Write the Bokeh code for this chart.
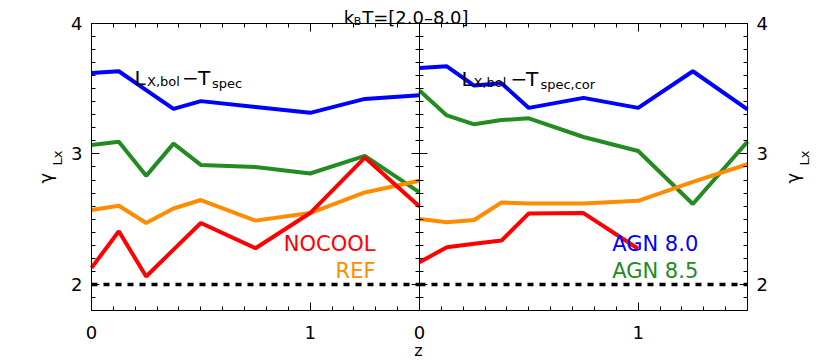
from bokeh.plotting import figure
from bokeh.models import (Range1d, LinearAxis, FixedTicker, Label)
from bokeh.embed import file_html
from bokeh.resources import INLINE
import math

# ---------------- data ----------------
z = [0.0, 0.125, 0.25, 0.375, 0.5, 0.75, 1.0, 1.25, 1.5]
z_nocool_cor = [0.0, 0.125, 0.25, 0.375, 0.5, 0.75, 1.0]

# left panel: L_X,bol - T_spec
agn80_spec = [3.62, 3.634, 3.49, 3.346, 3.405, 3.36, 3.315, 3.422, 3.45]
agn85_spec = [3.069, 3.094, 2.832, 3.079, 2.916, 2.90, 2.85, 2.985, 2.705]
ref_spec = [2.57, 2.603, 2.471, 2.582, 2.647, 2.489, 2.547, 2.705, 2.794]
nocool_spec = [2.127, 2.407, 2.061, 2.267, 2.471, 2.277, 2.547, 2.972, 2.598]

# right panel: L_X,bol - T_spec,cor
agn80_cor = [3.659, 3.672, 3.524, 3.542, 3.353, 3.43, 3.353, 3.634, 3.341]
agn85_cor = [3.486, 3.295, 3.227, 3.26, 3.273, 3.13, 3.023, 2.616, 3.094]
ref_cor = [2.502, 2.476, 2.494, 2.628, 2.621, 2.621, 2.641, 2.786, 2.921]
nocool_cor = [2.17, 2.285, 2.311, 2.336, 2.544, 2.547, 2.273]

ref_level = 2.0
z_lim = (0.0, 1.5)          # x extent of each panel
g_lim = (1.8, 4.0)          # y extent of the panels
x_ticks = [0, 1]
y_ticks = [2, 3, 4]
x_minor = [round(0.1 * i, 1) for i in range(16)]
y_minor = [round(1.8 + 0.1 * i, 1) for i in range(23)]

BLUE = "#0000FF"
GREEN = "#228B22"
ORANGE = "#FF8C00"
RED = "#FF0000"
FONT = "DejaVu Sans"

# ---------------- figure ----------------
# The frame covers the whole canvas; the two panels are drawn inside it.
# Default x range: left panel z in [0, 1.5]; range "r": right panel.
PX_X = 218.67   # pixels per unit z
PX_Y = 130.45   # pixels per unit gamma
x0 = -91 / PX_X
x1 = 3.0 + 83 / PX_X
y0 = g_lim[0] - 51 / PX_Y
y1 = g_lim[1] + 23 / PX_Y
p = figure(width=830, height=361, output_backend="svg", toolbar_location=None,
           x_range=Range1d(x0, x1), y_range=Range1d(y0, y1),
           x_axis_location=None, y_axis_location=None)
p.extra_x_ranges = {"r": Range1d(x0 - 1.5, x1 - 1.5)}
p.min_border = 0
p.min_border_left = 0
p.min_border_right = 0
p.min_border_top = 0
p.min_border_bottom = 0
p.grid.visible = False
p.outline_line_color = None
p.background_fill_color = "white"
p.border_fill_color = "white"


def style_axis(ax, labels=True):
    ax.axis_line_color = "black"
    ax.axis_line_width = 1
    ax.major_tick_line_color = "black"
    ax.minor_tick_line_color = "black"
    ax.major_tick_in = 8
    ax.major_tick_out = 0
    ax.minor_tick_in = 4
    ax.minor_tick_out = 0
    ax.major_label_text_font = FONT
    ax.major_label_text_font_size = "18px"
    ax.major_label_text_color = "black" if labels else None


# bottom (labelled) and top axes of both panels
for rng in ("default", "r"):
    b = LinearAxis(x_range_name=rng, fixed_location=g_lim[0], bounds=z_lim,
                   ticker=FixedTicker(ticks=x_ticks, minor_ticks=x_minor))
    style_axis(b)
    b.major_label_standoff = 16
    p.add_layout(b, "below")
    t = LinearAxis(x_range_name=rng, fixed_location=g_lim[1], bounds=z_lim,
                   ticker=FixedTicker(ticks=x_ticks, minor_ticks=x_minor))
    style_axis(t, labels=False)
    p.add_layout(t, "above")

# vertical axes: outer left, outer right (labelled) and the shared edge
yt = dict(ticks=y_ticks, minor_ticks=y_minor)
for loc, side, lab in ((z_lim[0], "left", True), (2 * z_lim[1], "right", True),
                       (z_lim[1], "right", False), (z_lim[1], "left", False)):
    a = LinearAxis(fixed_location=loc, bounds=g_lim, ticker=FixedTicker(**yt))
    style_axis(a, labels=lab)
    a.major_label_standoff = 9
    p.add_layout(a, side)

# reference level (dashed) across both panels
for rng in ("default", "r"):
    p.line([z[0], z[-1]], [ref_level, ref_level], line_color="black",
           line_width=3.5, line_dash="6 6", x_range_name=rng)

# ---------------- lines ----------------
LW = 4
p.line(z, agn80_spec, line_color=BLUE, line_width=LW)
p.line(z, agn85_spec, line_color=GREEN, line_width=LW)
p.line(z, ref_spec, line_color=ORANGE, line_width=LW)
p.line(z, nocool_spec, line_color=RED, line_width=LW)

p.line(z, agn80_cor, line_color=BLUE, line_width=LW, x_range_name="r")
p.line(z, agn85_cor, line_color=GREEN, line_width=LW, x_range_name="r")
p.line(z, ref_cor, line_color=ORANGE, line_width=LW, x_range_name="r")
p.line(z_nocool_cor, nocool_cor, line_color=RED, line_width=LW, x_range_name="r")


# ---------------- texts ----------------
def txt(s, x, y, size, color="black", align="left", angle=0.0, rng="default"):
    p.add_layout(Label(x=x, y=y, text=s, text_font=FONT,
                       text_font_size=f"{size}px", text_color=color,
                       text_align=align, text_baseline="alphabetic",
                       angle=angle, x_range_name=rng))


# panel labels
txt("L", 0.197, 3.586, 20)
txt("X,bol", 0.254, 3.555, 13)
txt("\u2212", 0.414, 3.586, 20)
txt("T", 0.487, 3.586, 20)
txt("spec", 0.551, 3.538, 13)

txt("L", 0.192, 3.578, 20, rng="r")
txt("X,bol", 0.247, 3.544, 13, rng="r")
txt("\u2212", 0.416, 3.578, 20, rng="r")
txt("T", 0.487, 3.578, 20, rng="r")
txt("spec,cor", 0.553, 3.532, 13, rng="r")

# legends
txt("NOCOOL", 1.2988, 2.306, 21, color=RED, align="right")
txt("REF", 1.2988, 2.101, 21, color=ORANGE, align="right")
txt("AGN 8.0", 0.8812, 2.306, 21, color=BLUE, rng="r")
txt("AGN 8.5", 0.8812, 2.101, 21, color=GREEN, rng="r")

# title  k_B T=[2.0-8.0]
txt("k", 1.1538, 4.0484, 18)
txt("B", 1.1996, 4.0178, 11)
txt("T=[2.0\u20138.0]", 1.2379, 4.0484, 18)

# x axis title
txt("z", 1.4954, 1.4934, 16, align="center")

# y axis titles  gamma_Lx
half_pi = math.pi / 2
txt("\u03b3", -0.2104, 2.7736, 18, angle=half_pi)
txt("Lx", -0.1555, 2.9115, 13, angle=half_pi)
txt("\u03b3", 3.2058, 2.7736, 18, angle=half_pi)
txt("Lx", 3.2607, 2.9115, 13, angle=half_pi)

open("out.html", "w").write(file_html(p, INLINE))
